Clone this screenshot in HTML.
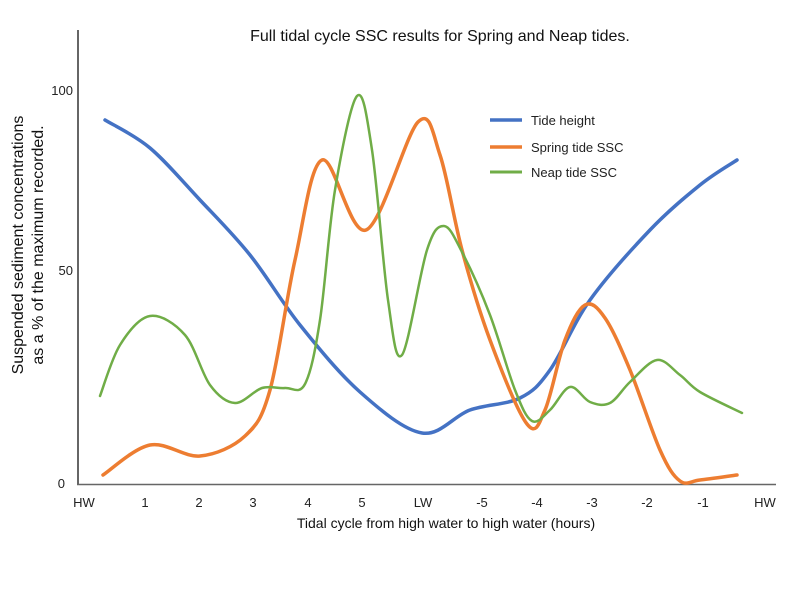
<!DOCTYPE html>
<html><head><meta charset="utf-8"><style>
html,body{margin:0;padding:0;background:#fff;}
svg{display:block;font-family:"Liberation Sans",sans-serif;}
</style></head><body>
<svg id="s" width="788" height="591" viewBox="0 0 788 591" xmlns="http://www.w3.org/2000/svg">
<rect width="788" height="591" fill="#fff"/>
<text x="440" y="41" font-size="16" text-anchor="middle" fill="#111">Full tidal cycle SSC results for Spring and Neap tides.</text>
<line x1="78" y1="30" x2="78" y2="485" stroke="#333" stroke-width="1.5"/>
<line x1="77" y1="484.5" x2="776" y2="484.5" stroke="#666" stroke-width="1.5"/>
<g font-size="13" fill="#222" text-anchor="end">
<text x="73" y="95">100</text><text x="73" y="275">50</text><text x="65" y="488">0</text>
</g>
<g font-size="13" fill="#222" text-anchor="middle">
<text x="84" y="507">HW</text><text x="145" y="507">1</text><text x="199" y="507">2</text><text x="253" y="507">3</text><text x="308" y="507">4</text><text x="362" y="507">5</text><text x="423" y="507">LW</text><text x="482" y="507">-5</text><text x="537" y="507">-4</text><text x="592" y="507">-3</text><text x="647" y="507">-2</text><text x="703" y="507">-1</text><text x="765" y="507">HW</text>
</g>
<text x="446" y="528" font-size="14" text-anchor="middle" fill="#111">Tidal cycle from high water to high water (hours)</text>
<g transform="translate(23,245) rotate(-90)" font-size="16" fill="#111" text-anchor="middle">
<text x="0" y="0">Suspended sediment concentrations</text>
<text x="0" y="20">as a % of the maximum recorded.</text>
</g>
<path id="blue" fill="none" stroke="#4472c4" stroke-width="3.5" stroke-linecap="round"/>
<path id="orange" fill="none" stroke="#ed7d31" stroke-width="3.5" stroke-linecap="round"/>
<path id="green" fill="none" stroke="#70ad47" stroke-width="2.5" stroke-linecap="round"/>
<line x1="490" y1="120" x2="522" y2="120" stroke="#4472c4" stroke-width="3.5"/>
<line x1="490" y1="147" x2="522" y2="147" stroke="#ed7d31" stroke-width="3.5"/>
<line x1="490" y1="172" x2="522" y2="172" stroke="#70ad47" stroke-width="3"/>
<g font-size="13" fill="#222">
<text x="531" y="125">Tide height</text><text x="531" y="152">Spring tide SSC</text><text x="531" y="177">Neap tide SSC</text>
</g>
</svg>
<script>
function cr(p){var d="M"+p[0][0]+","+p[0][1];for(var i=0;i<p.length-1;i++){var a=p[i-1]||p[i],b=p[i],c=p[i+1],e=p[i+2]||c;
d+=" C"+(b[0]+(c[0]-a[0])/6).toFixed(1)+","+(b[1]+(c[1]-a[1])/6).toFixed(1)+" "+(c[0]-(e[0]-b[0])/6).toFixed(1)+","+(c[1]-(e[1]-b[1])/6).toFixed(1)+" "+c[0]+","+c[1];}return d;}
document.getElementById("blue").setAttribute("d",cr([[105,120],[150,148],[200,200],[250,255],[300,325],[360,392],[422,433],[470,410],[520,398],[550,370],[590,300],[650,230],[700,185],[737,160]]));
document.getElementById("orange").setAttribute("d",cr([[103,475],[150,445],[200,456],[245,436],[270,390],[295,260],[322,160],[366,230],[418,122],[440,155],[462,250],[490,340],[527,424],[545,410],[565,340],[585,305],[605,318],[630,370],[660,450],[680,481],[700,480],[737,475]]));
document.getElementById("green").setAttribute("d",cr([[100,396],[120,345],[150,316],[185,335],[210,385],[235,403],[262,388],[285,388],[305,384],[320,320],[335,190],[357,96],[372,150],[388,300],[402,355],[427,250],[444,226],[462,252],[490,315],[515,390],[532,421],[550,410],[570,387],[590,402],[610,403],[630,382],[657,360],[680,375],[700,392],[742,413]]));
</script>
</body></html>
